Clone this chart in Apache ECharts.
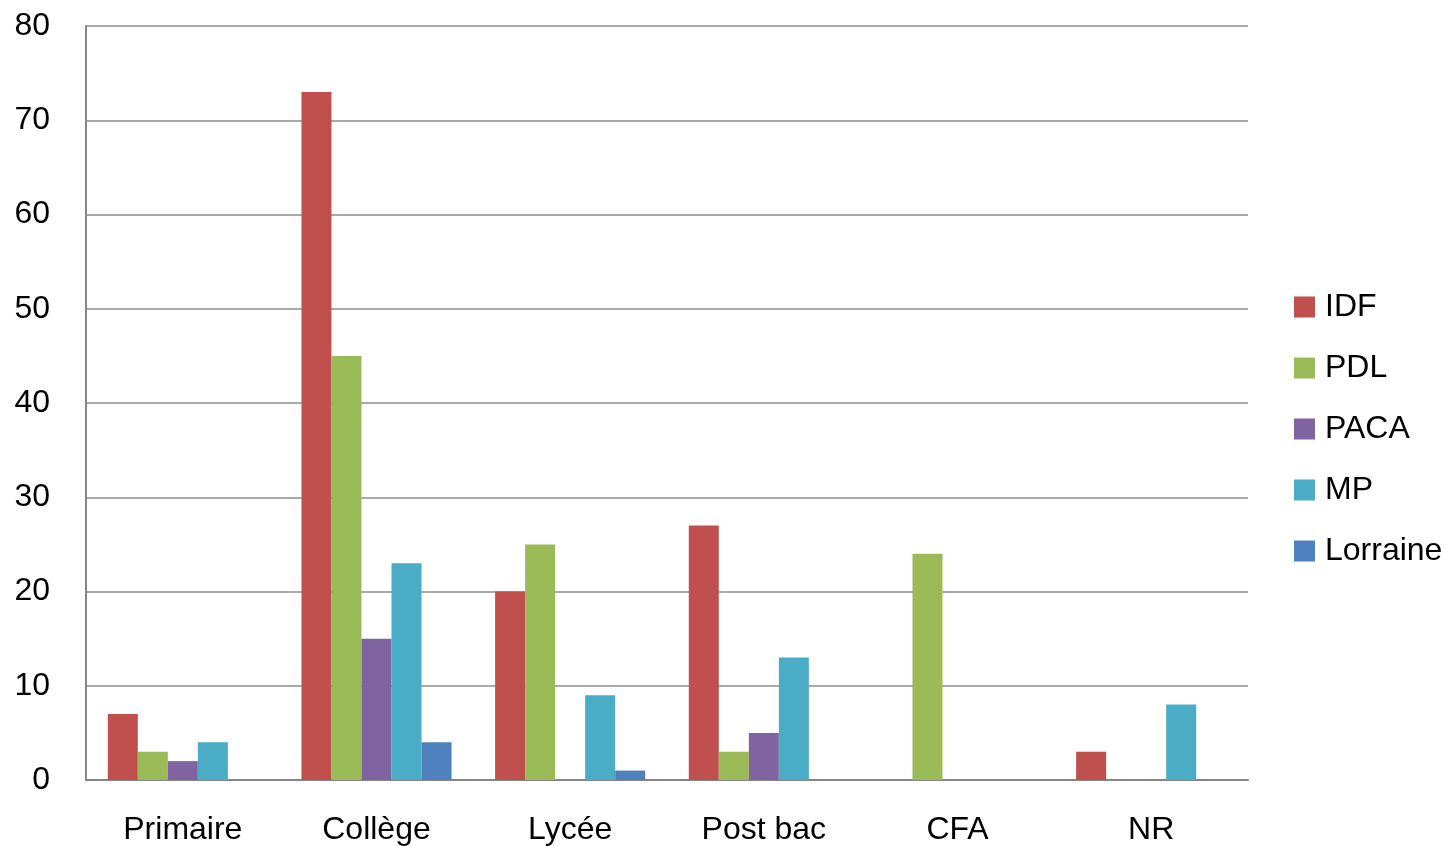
<!DOCTYPE html>
<html>
<head>
<meta charset="utf-8">
<script src="https://cdn.jsdelivr.net/npm/echarts@6/dist/echarts.min.js"></script>
<style>
html,body{margin:0;padding:0;background:#fff;}
#chart{width:1453px;height:846px;}
</style>
</head>
<body>
<div id="chart"></div>
<script>
const categories = ['Primaire', 'Collège', 'Lycée', 'Post bac', 'CFA', 'NR'];
const seriesNames = ['IDF', 'PDL', 'PACA', 'MP', 'Lorraine'];
const idf = [7, 73, 20, 27, 0, 3];
const pdl = [3, 45, 25, 3, 24, 0];
const paca = [2, 15, 0, 5, 0, 0];
const mp = [4, 23, 9, 13, 0, 8];
const lorraine = [0, 4, 1, 0, 0, 0];
const yTicks = [0, 10, 20, 30, 40, 50, 60, 70, 80];
const colors = ['#C0504D', '#9BBB59', '#8064A2', '#4BACC6', '#4F81BD'];

const seriesData = [idf, pdl, paca, mp, lorraine];
const font = 'Liberation Sans';
const chart = echarts.init(document.getElementById('chart'), null, {renderer: 'canvas'});
chart.setOption({
  animation: false,
  backgroundColor: '#ffffff',
  color: colors,
  grid: {left: 86, right: 205, top: 26, bottom: 66, containLabel: false},
  legend: {
    orient: 'vertical',
    left: 1294,
    top: 291,
    padding: 0,
    itemWidth: 21,
    itemHeight: 21,
    itemGap: 29,
    icon: 'rect',
    data: seriesNames,
    textStyle: {fontFamily: font, fontSize: 32, color: '#000', padding: [0, 0, 0, 5]}
  },
  xAxis: {
    type: 'category',
    data: categories,
    axisLine: {show: true, lineStyle: {color: '#868686', width: 2}},
    axisTick: {show: false},
    axisLabel: {fontFamily: font, fontSize: 32, color: '#000', margin: 34, interval: 0}
  },
  yAxis: {
    type: 'value',
    min: yTicks[0],
    max: yTicks[yTicks.length - 1],
    interval: 10,
    axisLine: {show: true, lineStyle: {color: '#868686', width: 2}},
    axisTick: {show: false},
    splitLine: {show: true, lineStyle: {color: '#8c8c8c', width: 1.5}},
    axisLabel: {fontFamily: font, fontSize: 32, color: '#000', margin: 36}
  },
  series: seriesNames.map((name, i) => ({
    name: name,
    type: 'bar',
    data: seriesData[i],
    barGap: '0%',
    barCategoryGap: '22.5%',
    itemStyle: {color: colors[i]}
  }))
});
</script>
</body>
</html>
